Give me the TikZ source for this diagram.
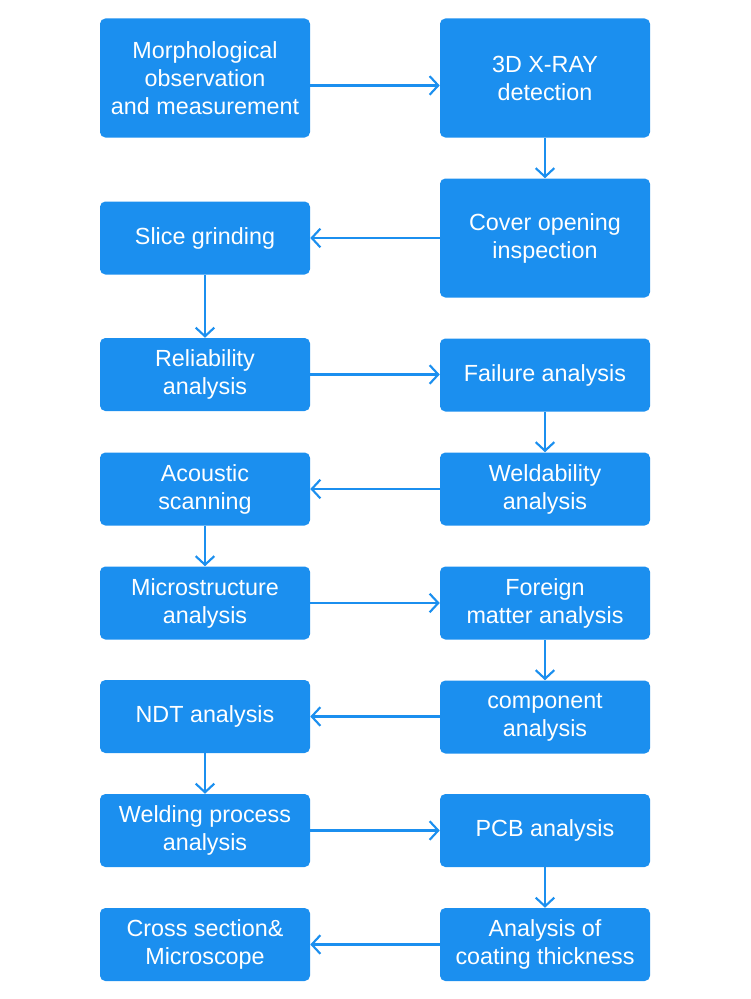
\documentclass[tikz,border=0pt]{standalone}
\usepackage{fontspec}
\setmainfont{Liberation Sans}
\usetikzlibrary{arrows.meta}
\definecolor{boxblue}{RGB}{27,143,239}
\begin{document}
\begin{tikzpicture}[x=0.75pt,y=-0.75pt,
  box/.style={fill=boxblue,draw=none,rounded corners=4pt,text=white,align=center,
    minimum width=157.5pt,minimum height=54.75pt,inner sep=0pt,
    font=\fontsize{17.5pt}{21pt}\selectfont},
  tall/.style={box,minimum height=89.25pt},
  arr/.style={draw=boxblue,line width=1.6pt,-{Straight Barb[length=6.5pt,width=14pt,line width=1.6pt]}}]
\useasboundingbox (0,0) rectangle (750,999);
\node[tall] (L1) at (205,78) {Morphological\\observation\\and measurement};
\node[tall] (R1) at (545,78) {3D X-RAY\\detection};
\node[tall] (R2) at (545,238) {Cover opening\\inspection};
\node[box] (L2) at (205,238) {Slice grinding};
\node[box] (L3) at (205,374.5) {Reliability\\analysis};
\node[box] (R3) at (545,375) {Failure analysis};
\node[box] (R4) at (545,489) {Weldability\\analysis};
\node[box] (L4) at (205,489) {Acoustic\\scanning};
\node[box] (L5) at (205,603) {Microstructure\\analysis};
\node[box] (R5) at (545,603) {Foreign\\matter analysis};
\node[box] (R6) at (545,717) {component\\analysis};
\node[box] (L6) at (205,716.5) {NDT analysis};
\node[box] (L7) at (205,830.5) {Welding process\\analysis};
\node[box] (R7) at (545,830.5) {PCB analysis};
\node[box] (R8) at (545,944.5) {Analysis of\\coating thickness};
\node[box] (L8) at (205,944.5) {Cross section\&\\Microscope};
\draw[arr] ([yshift=-5.6pt]L1.east) -- ([yshift=-5.6pt]R1.west);
\draw[arr] (R1) -- (R2);
\draw[arr] (R2.west |- L2.east) -- (L2.east);
\draw[arr] (L2) -- (L3);
\draw[arr] (L3) -- (L3 -| R3.west);
\draw[arr] (R3) -- (R4);
\draw[arr] (R4) -- (L4);
\draw[arr] (L4) -- (L5);
\draw[arr] (L5) -- (R5);
\draw[arr] (R5) -- (R6);
\draw[arr] (R6.west |- L6.east) -- (L6.east);
\draw[arr] (L6) -- (L7);
\draw[arr] (L7) -- (R7);
\draw[arr] (R7) -- (R8);
\draw[arr] (R8) -- (L8);
\end{tikzpicture}
\end{document}
